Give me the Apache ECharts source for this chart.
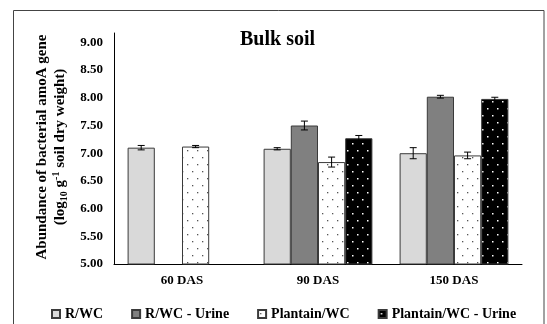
<!DOCTYPE html>
<html><head><meta charset="utf-8">
<script src="https://cdn.jsdelivr.net/npm/echarts@6/dist/echarts.min.js"></script>
<style>html,body{margin:0;padding:0;background:#fff}#c{width:547px;height:324px}</style>
</head><body><div id="c"></div>
<script>
const categories = ['60 DAS', '90 DAS', '150 DAS'];
const seriesNames = ['R/WC', 'R/WC - Urine', 'Plantain/WC', 'Plantain/WC - Urine'];
const valRWC = [7.10, 7.08, 7.00];
const valRWCUrine = [null, 7.50, 8.02];
const valPlantain = [7.12, 6.84, 6.96];
const valPlantainUrine = [null, 7.27, 7.98];
const errRWC = [0.04, 0.02, 0.10];
const errRWCUrine = [null, 0.08, 0.025];
const errPlantain = [0.02, 0.09, 0.06];
const errPlantainUrine = [null, 0.05, 0.03];
const yTicks = [5.00, 5.50, 6.00, 6.50, 7.00, 7.50, 8.00, 8.50, 9.00];

const values = [valRWC, valRWCUrine, valPlantain, valPlantainUrine];
const errs = [errRWC, errRWCUrine, errPlantain, errPlantainUrine];

function dotPattern(bg, dot, size) {
  const c = document.createElement('canvas');
  c.width = 10; c.height = 14;
  const g = c.getContext('2d');
  g.fillStyle = bg; g.fillRect(0, 0, 10, 14);
  g.fillStyle = dot;
  g.fillRect(2, 3, size, size);
  g.fillRect(7, 10, size, size);
  return c;
}
const fills = [
  '#d9d9d9',
  '#808080',
  {image: dotPattern('#ffffff', '#555555', 1.3), repeat: 'repeat'},
  {image: dotPattern('#000000', '#ffffff', 1.5), repeat: 'repeat'}
];
const serif = 'Liberation Serif';

const barSeries = seriesNames.map((n, i) => ({
  name: n, type: 'bar', data: values[i],
  barGap: '0%', barCategoryGap: '20%',
  itemStyle: {color: fills[i], borderColor: '#3a3a3a', borderWidth: 1}
}));

const errData = [];
errs.forEach((arr, s) => arr.forEach((e, c) => {
  if (e != null && values[s][c] != null) errData.push([c, s, values[s][c], e]);
}));

const errSeries = {
  type: 'custom', silent: true, z: 10,
  data: errData,
  encode: {x: 0, y: 2},
  renderItem: function (params, api) {
    const c = api.value(0), s = api.value(1), v = api.value(2), e = api.value(3);
    const catW = api.size([1, 0])[0];
    const bw = catW * 0.8 / 4;
    const cx = api.coord([c, v])[0] - catW * 0.4 + (s + 0.5) * bw;
    const yt = api.coord([c, v + e])[1];
    const yb = api.coord([c, v - e])[1];
    const hw = 3.5;
    const st = {stroke: '#000', lineWidth: 1};
    return {type: 'group', children: [
      {type: 'line', shape: {x1: cx, y1: yt, x2: cx, y2: yb}, style: st},
      {type: 'line', shape: {x1: cx - hw, y1: yt, x2: cx + hw, y2: yt}, style: st},
      {type: 'line', shape: {x1: cx - hw, y1: yb, x2: cx + hw, y2: yb}, style: st}
    ]};
  }
};

const nameRich = {
  a: {fontFamily: serif, fontWeight: 'bold', fontSize: 15, fill: '#000', lineHeight: 18},
  sub: {fontFamily: serif, fontWeight: 'bold', fontSize: 10, fill: '#000', verticalAlign: 'bottom', lineHeight: 18},
  sup: {fontFamily: serif, fontWeight: 'bold', fontSize: 10, fill: '#000', verticalAlign: 'top', lineHeight: 18}
};

const chart = echarts.init(document.getElementById('c'), null, {renderer: 'canvas'});
chart.setOption({
  animation: false,
  backgroundColor: '#fff',
  title: {text: 'Bulk soil', left: 235, top: 25,
    textStyle: {fontFamily: serif, fontWeight: 'bold', fontSize: 20, color: '#000'}},
  legend: {data: seriesNames, left: 46, top: 302, icon: 'rect', itemWidth: 8, itemHeight: 8, itemGap: 28,
    textStyle: {fontFamily: serif, fontWeight: 'bold', fontSize: 14, color: '#000'}},
  grid: {left: 114, right: 25, top: 33, bottom: 60},
  graphic: [
    {type: 'rect', shape: {x: 13.5, y: 10.5, width: 530.5, height: 330},
      style: {fill: 'none', stroke: '#444', lineWidth: 1}, silent: true},
    {type: 'text', x: 51, y: 147, rotation: Math.PI / 2, silent: true,
      style: {text: '{a|Abundance of bacterial amoA gene}\n{a|(log}{sub|10}{a| g}{sup|-1}{a| soil dry weight)}',
        rich: nameRich, align: 'center', verticalAlign: 'middle',
        font: 'bold 15px "Liberation Serif"', fill: '#000'}}
  ],
  xAxis: {type: 'category', data: categories,
    axisLine: {lineStyle: {color: '#000', width: 1}}, axisTick: {show: false},
    axisLabel: {fontFamily: serif, fontWeight: 'bold', fontSize: 13, color: '#000', margin: 10}},
  yAxis: {type: 'value', min: yTicks[0], max: 9.17, interval: 0.5,
    axisLine: {show: true, lineStyle: {color: '#000', width: 1}}, axisTick: {show: false},
    splitLine: {show: false},
    axisLabel: {showMaxLabel: false, fontFamily: serif, fontWeight: 'bold', fontSize: 13, color: '#000', margin: 11,
      formatter: v => yTicks.some(t => Math.abs(t - v) < 1e-6) ? v.toFixed(2) : ''}
  },
  series: barSeries.concat([errSeries])
});
</script></body></html>
